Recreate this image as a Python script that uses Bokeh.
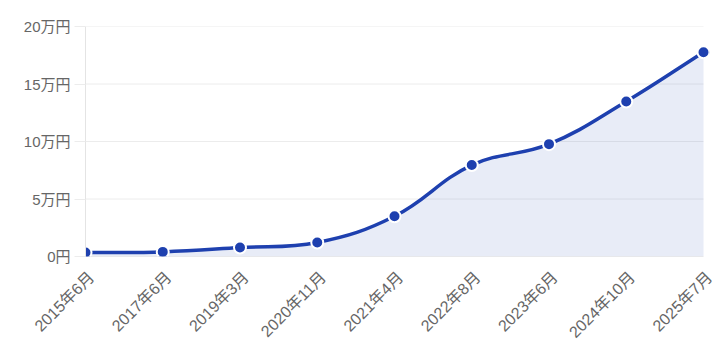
import math
from bokeh.plotting import figure
from bokeh.models import Range1d, FixedTicker, ColumnDataSource, LinearAxis
from bokeh.embed import file_html
from bokeh.resources import INLINE

categories = ["2015年6月", "2017年6月", "2019年3月", "2020年11月", "2021年4月",
              "2022年8月", "2023年6月", "2024年10月", "2025年7月"]
values = [3500, 4000, 7800, 12200, 35000, 79500, 97700, 134800, 177600]
y_ticks = [0, 50000, 100000, 150000, 200000]
y_tick_labels = ["0円", "5万円", "10万円", "15万円", "20万円"]

LINE = "#1e40af"
FONT = "Liberation Sans, Noto Sans CJK JP"

W, H = 726, 363
left, top, bottom = 85, 26, 107
plot_w = 618                      # width of the drawn data area
label_shift_px = 6                # rotated labels sit slightly right of ticks
right = W - left - plot_w - label_shift_px
fh = H - top - bottom
xs = list(range(len(categories)))
last = len(xs) - 1

# Chart.js-like spline (tension 0.4) computed in pixel space
sx = plot_w / last
sy = fh / 200000.0
px = [x * sx for x in xs]
py = [-v * sy for v in values]
t = 0.4
n = len(px)
cp_prev, cp_next = [], []
for i in range(n):
    pi_ = max(i - 1, 0)
    ni = min(i + 1, n - 1)
    d01 = math.hypot(px[i] - px[pi_], py[i] - py[pi_])
    d12 = math.hypot(px[ni] - px[i], py[ni] - py[i])
    tot = d01 + d12
    s01 = d01 / tot if tot else 0
    s12 = d12 / tot if tot else 0
    fa, fb = t * s01, t * s12
    dx, dy = px[ni] - px[pi_], py[ni] - py[pi_]
    cp_prev.append((px[i] - fa * dx, py[i] - fa * dy))
    cp_next.append((px[i] + fb * dx, py[i] + fb * dy))

def to_data(p):
    return p[0] / sx, -p[1] / sy

x0, y0, x1, y1, cx0, cy0, cx1, cy1 = [], [], [], [], [], [], [], []
fx, fy = [], []
for i in range(n - 1):
    a = (px[i], py[i]); b = cp_next[i]; c = cp_prev[i + 1]; d = (px[i + 1], py[i + 1])
    A, B, C, D = map(to_data, (a, b, c, d))
    x0.append(A[0]); y0.append(A[1]); x1.append(D[0]); y1.append(D[1])
    cx0.append(B[0]); cy0.append(B[1]); cx1.append(C[0]); cy1.append(C[1])
    steps = 30
    for k in range(steps + (1 if i == n - 2 else 0)):
        u = k / steps
        m = 1 - u
        X = m**3 * A[0] + 3 * m * m * u * B[0] + 3 * m * u * u * C[0] + u**3 * D[0]
        Y = m**3 * A[1] + 3 * m * m * u * B[1] + 3 * m * u * u * C[1] + u**3 * D[1]
        fx.append(X); fy.append(Y)

shift = label_shift_px / sx
p = figure(width=W, height=H, output_backend="svg", toolbar_location=None,
           x_range=Range1d(0, last + shift), y_range=Range1d(0, 200000),
           x_axis_location=None,
           min_border_left=left, min_border_right=right,
           min_border_top=top, min_border_bottom=bottom)
p.outline_line_color = None
p.background_fill_color = "white"
p.border_fill_color = "white"
p.xgrid.grid_line_color = None
p.ygrid.grid_line_color = None

# horizontal grid lines spanning the data area only
grid_colors = ["#dcdcdc" if v == 0 else "#ececec" for v in y_ticks]
p.segment(x0=[0] * len(y_ticks), x1=[last] * len(y_ticks), y0=y_ticks, y1=y_ticks,
          line_color=grid_colors, line_width=1, level="underlay")

p.varea(x=fx, y1=[0] * len(fx), y2=fy, fill_color=LINE, fill_alpha=0.1)
p.bezier(x0=x0, y0=y0, x1=x1, y1=y1, cx0=cx0, cy0=cy0, cx1=cx1, cy1=cy1,
         line_color=LINE, line_width=3.5)
src = ColumnDataSource(dict(x=xs, y=values))
p.scatter("x", "y", source=src, size=12, fill_color=LINE,
          line_color="white", line_width=2)

# x axis: labels nudged right by a few pixels via a shifted range
p.extra_x_ranges = {"labels": Range1d(-shift, last)}
xaxis = LinearAxis(x_range_name="labels")
xaxis.ticker = FixedTicker(ticks=xs)
xaxis.major_label_overrides = {i: c for i, c in enumerate(categories)}
xaxis.major_label_orientation = math.pi / 4
xaxis.major_tick_line_color = None
xaxis.minor_tick_line_color = None
xaxis.axis_line_color = None
xaxis.major_label_text_color = "#666666"
xaxis.major_label_text_font = FONT
xaxis.major_label_text_font_size = "16px"
xaxis.major_label_standoff = 12
p.add_layout(xaxis, "below")

p.yaxis.ticker = FixedTicker(ticks=y_ticks)
p.yaxis.major_label_overrides = {v: l for v, l in zip(y_ticks, y_tick_labels)}
p.yaxis.major_tick_out = 11
p.yaxis.major_tick_in = 0
p.yaxis.major_tick_line_color = "#ececec"
p.yaxis.minor_tick_line_color = None
p.yaxis.axis_line_color = "#e4e4e4"
p.yaxis.major_label_text_color = "#666666"
p.yaxis.major_label_text_font = FONT
p.yaxis.major_label_text_font_size = "15px"
p.yaxis.major_label_standoff = 4

open("out.html", "w").write(file_html(p, INLINE))
